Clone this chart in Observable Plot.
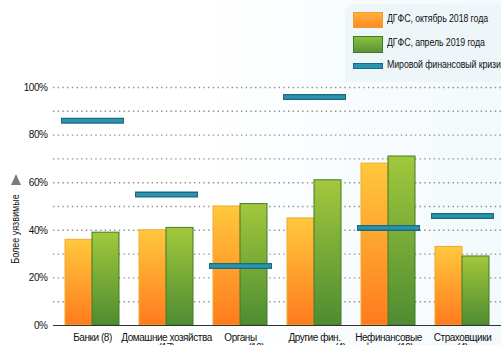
<!DOCTYPE html>
<html>
<head>
<meta charset="utf-8">
<script src="https://cdn.jsdelivr.net/npm/d3@7"></script>
<script src="https://cdn.jsdelivr.net/npm/@observablehq/plot@0.6"></script>
<style>
  html, body { margin: 0; padding: 0; background: #fff; }
  #wrap { position: relative; width: 501px; height: 345px; overflow: hidden;
    background: linear-gradient(90deg, #ffffff 0%, #ffffff 40%, #f3f9fc 100%);
    font-family: "Liberation Sans", Arial, sans-serif; color: #111; }
  #legend { position: absolute; left: 345px; top: 4px; width: 170px; height: 78px;
    background: #eef6fa; border-top-left-radius: 10px; }
  .sw { position: absolute; left: 8px; width: 28px; }
  .lg-text { position: absolute; left: 42px; line-height: 12px; font-size: 10px; white-space: nowrap;
    transform: scaleX(0.88); transform-origin: 0 50%; letter-spacing: -0.1px; }
  #ylab { position: absolute; left: 15px; top: 229px; transform: translate(-50%, -50%) rotate(-90deg) scaleX(0.86);
    font-size: 10.5px; white-space: nowrap; }
  #tri { position: absolute; left: 11px; top: 174px; width: 0; height: 0;
    border-left: 5px solid transparent; border-right: 5px solid transparent; border-bottom: 11px solid #7a7a7a; }
  svg { position: absolute; left: 0; top: 0; }
  svg text { letter-spacing: -0.45px; }
</style>
</head>
<body>
<div id="wrap">
  <div id="chart"></div>
  <div id="ylab">Более уязвимые</div>
  <div id="tri"></div>
  <div id="legend"></div>
</div>
<script>
const categories = ["Банки (8)", "Домашние хозяйства (17)", "Органы власти (19)", "Другие фин. посредники (4)", "Нефинансовые фирмы (19)", "Страховщики (4)"];
const tickLabels = ["Банки (8)", "Домашние хозяйства\n(17)", "Органы\nвласти (19)", "Другие фин.\nпосредники (4)", "Нефинансовые\nфирмы (19)", "Страховщики\n(4)"];
const oct2018 = [36, 40, 50, 45, 68, 33];
const apr2019 = [39, 41, 51, 61, 71, 29];
const crisis = [86, 55, 25, 96, 41, 46];
const seriesNames = ["ДГФС, октябрь 2018 года", "ДГФС, апрель 2019 года", "Мировой финансовый кризис"];
const yTicks = [0, 20, 40, 60, 80, 100];
const gridValues = [10, 20, 30, 40, 50, 60, 70, 80, 90, 100];

const rows = categories.map((c, i) => ({cat: c, label: tickLabels[i], oct: oct2018[i], apr: apr2019[i], crisis: crisis[i]}));
const labelOf = new Map(rows.map(r => [r.cat, r.label]));

const defs = () => {
  const d = d3.create("svg:defs");
  const g1 = d.append("linearGradient").attr("id", "gOrange").attr("x1", 0).attr("y1", 0).attr("x2", 0).attr("y2", 1);
  g1.append("stop").attr("offset", "0%").attr("stop-color", "#ffc83c");
  g1.append("stop").attr("offset", "100%").attr("stop-color", "#ff7b1e");
  const g2 = d.append("linearGradient").attr("id", "gGreen").attr("x1", 0).attr("y1", 0).attr("x2", 0).attr("y2", 1);
  g2.append("stop").attr("offset", "0%").attr("stop-color", "#a2c83c");
  g2.append("stop").attr("offset", "100%").attr("stop-color", "#4e8c32");
  return d.node();
};

const chart = Plot.plot({
  width: 501,
  height: 345,
  marginLeft: 53,
  marginRight: 0,
  marginTop: 87,
  marginBottom: 20,
  style: {background: "transparent", fontSize: "10px", fontFamily: "'Liberation Sans', Arial, sans-serif", color: "#111"},
  x: {domain: categories, paddingInner: 0.275, paddingOuter: 0.144, tickSize: 0, tickPadding: 8, label: null, tickFormat: d => labelOf.get(d)},
  y: {domain: [0, 100], ticks: yTicks, tickSize: 0, tickPadding: 6, label: null, tickFormat: d => d + "%"},
  marks: [
    defs,
    Plot.ruleY(gridValues, {stroke: "#8f8f8f", strokeWidth: 1.4, strokeDasharray: "1.4,3.3"}),
    Plot.barY(rows, {x: "cat", y: "oct", fill: "url(#gOrange)", stroke: "#f3a92c", strokeWidth: 1, insetRight: 27}),
    Plot.barY(rows, {x: "cat", y: "apr", fill: "url(#gGreen)", stroke: "#3f7d25", strokeWidth: 1, insetLeft: 27}),
    Plot.ruleY([0], {stroke: "#333", strokeWidth: 1.2}),
    Plot.tickY(rows, {x: "cat", y: "crisis", stroke: "#1b6a80", strokeWidth: 6, insetLeft: -4, insetRight: -5}),
    Plot.tickY(rows, {x: "cat", y: "crisis", stroke: "#2a93ae", strokeWidth: 3.4, insetLeft: -3, insetRight: -4})
  ]
});
document.getElementById("chart").appendChild(chart);

// legend
const legend = document.getElementById("legend");
const items = [
  {name: seriesNames[0], top: 8, h: 14, bg: "linear-gradient(#ffb23a, #ff8a24)", border: "1px solid #f29a2a", cy: 15},
  {name: seriesNames[1], top: 32, h: 15, bg: "linear-gradient(#8cc040, #5a9434)", border: "1px solid #3f7d25", cy: 39},
  {name: seriesNames[2], top: 59, h: 4, bg: "#2a93ae", border: "1px solid #1b6a80", cy: 61}
];
items.forEach(it => {
  const sw = document.createElement("div");
  sw.className = "sw";
  sw.style.top = it.top + "px";
  sw.style.height = it.h + "px";
  sw.style.background = it.bg;
  sw.style.border = it.border;
  legend.appendChild(sw);
  const t = document.createElement("div");
  t.className = "lg-text";
  t.style.top = (it.cy - 6) + "px";
  t.textContent = it.name;
  legend.appendChild(t);
});
</script>
</body>
</html>
